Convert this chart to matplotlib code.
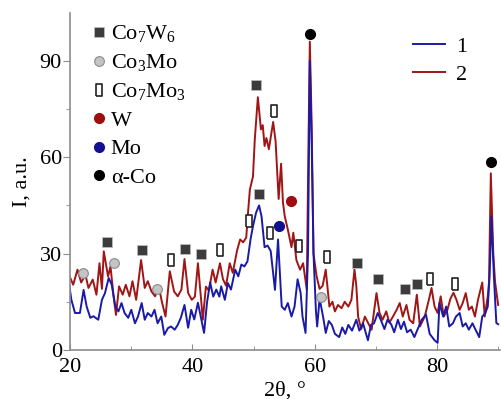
import matplotlib.pyplot as plt
from matplotlib.lines import Line2D

plt.rcParams['font.family'] = 'Liberation Serif'
plt.rcParams['mathtext.fontset'] = 'custom'
plt.rcParams['mathtext.rm'] = 'Liberation Serif'
plt.rcParams['mathtext.it'] = 'Liberation Serif:italic'

# curve 1 (blue)
x1 = [19.8, 20.2, 20.8, 21.6, 22.2, 22.7, 23.3, 23.8, 24.6, 25.2, 25.7, 26.3, 26.8,
      27.4, 27.9, 28.4, 28.9, 29.5, 30.0, 30.6, 31.1, 31.7, 32.2, 32.7, 33.3, 33.8,
      34.3, 34.9, 35.4, 36.0, 36.5, 37.1, 37.6, 38.1, 38.7, 39.3, 39.8, 40.3, 40.9,
      41.4, 41.9, 42.4, 42.9, 43.4, 43.9, 44.4, 44.7, 45.3, 45.8, 46.3, 47.0, 47.5,
      48.0, 48.5, 49.0, 49.5, 49.9, 50.4, 50.9, 51.3, 51.8, 52.3, 52.8, 53.5, 54.0,
      54.3, 54.6, 55.1, 55.6, 56.2, 56.7, 57.2, 57.7, 58.0, 58.5, 58.9, 59.2, 59.5,
      59.8, 60.2, 60.4, 60.8, 61.1, 61.4, 61.8, 62.3, 62.8, 63.3, 64.0, 64.5, 65.0,
      65.5, 66.1, 66.8, 67.3, 67.9, 68.7, 69.2, 69.7, 70.3, 70.8, 71.4, 71.9, 72.5,
      73.0, 73.6, 74.1, 74.6, 75.1, 75.7, 76.3, 76.8, 77.5, 78.2, 78.8, 79.6, 80.1,
      80.4, 81.0, 81.5, 82.0, 82.6, 83.1, 83.7, 84.2, 84.7, 85.2, 85.8, 86.3, 86.9,
      87.4, 87.9, 88.3, 88.6, 88.9, 89.3, 89.7, 90.0]
y1 = [21, 15.6, 11.5, 11.5, 18.7, 13.5, 10, 10.5, 9.4, 15.6, 17.7, 22.4, 20.3,
      13.5, 12, 14.6, 11.5, 10, 12.5, 8.3, 10.4, 14.6, 9.4, 11.5, 10.4, 12.5,
      8.3, 10.4, 4.7, 6.8, 7.3, 6.3, 7.8, 10, 14, 6.9, 12.5, 9.5, 14.7,
      10, 5.3, 15, 21, 16.6, 18.8, 16.6, 19.8, 15.6, 20.8, 18.8, 25, 22.9,
      26.6, 26, 27.6, 34.4, 38.5, 42.7, 45, 41.6, 32, 32.5, 30.8, 18.7, 34.4,
      24, 13.5, 12.5, 14.6, 10.4, 13.5, 22, 17.7, 10.4, 5.3, 30, 90, 65,
      30, 12, 7.3, 16, 13, 10, 5.3, 9, 7.8, 5, 4, 7, 5,
      7.8, 6, 9.4, 6, 8.3, 3, 7.8, 8.3, 11.5, 9.4, 6.5, 9.4, 8,
      5.5, 9.4, 6.5, 8.8, 5.5, 6.3, 4, 6.3, 9.4, 11, 5, 3, 2.2,
      14.6, 10.4, 13.5, 7.3, 8.3, 10.4, 11.5, 7.3, 8.3, 6.3, 8.3, 6.3, 4,
      10.4, 11.5, 13.5, 23, 41.6, 23, 8.4, 8]

# curve 2 (red)
x2 = [19.8, 20.5, 21.2, 21.8, 22.5, 23.0, 23.7, 24.3, 24.8, 25.2, 25.5, 26.2, 26.6,
      27.1, 27.5, 28.0, 28.6, 29.1, 29.7, 30.2, 30.8, 31.6, 32.2, 32.7, 33.3, 33.9,
      34.5, 35.0, 35.6, 36.3, 37.0, 37.6, 38.2, 38.7, 39.3, 39.9, 40.4, 40.9, 41.7,
      42.2, 42.7, 43.3, 43.8, 44.5, 45.0, 45.5, 46.1, 46.6, 47.3, 47.8, 48.3, 48.8,
      49.1, 49.4, 49.9, 50.2, 50.7, 51.2, 51.5, 51.8, 52.1, 52.5, 53.2, 53.6, 54.1,
      54.5, 54.8, 55.1, 55.6, 56.2, 56.5, 57.0, 57.6, 58.1, 58.7, 58.95, 59.2, 59.5,
      59.8, 60.3, 60.8, 61.3, 61.8, 62.4, 62.9, 63.3, 63.8, 64.4, 64.9, 65.5, 66.0,
      66.5, 66.8, 67.1, 67.6, 68.2, 68.7, 69.3, 70.1, 70.6, 71.1, 71.7, 72.2, 72.8,
      73.4, 73.9, 74.4, 75.0, 75.5, 76.1, 76.7, 77.2, 78.0, 78.8, 79.1, 79.6, 80.1,
      80.6, 81.1, 81.7, 82.2, 82.7, 83.2, 83.7, 84.2, 84.7, 85.2, 85.7, 86.2, 86.7,
      87.4, 87.8, 88.3, 88.5, 88.8, 89.2, 89.5, 90.0]
y2 = [23.4, 20.3, 25, 21, 23.4, 19.3, 21.9, 17.2, 27, 19, 30.7, 22.9, 26,
      16.7, 10.9, 19.8, 17.2, 20.3, 16.7, 21.4, 15.6, 28, 19.3, 21.4, 18.2, 16.7,
      19.8, 15, 10.4, 24.5, 18.2, 16.7, 18.8, 28.3, 17.7, 15.6, 16.6, 27, 9.4,
      19.7, 18.5, 25, 21, 27, 22, 20, 27, 24, 31, 34.4, 33.5, 35,
      43, 50, 54, 65.6, 78.7, 68.7, 70, 63.5, 66, 62.5, 71, 65, 47,
      58, 46, 41.6, 37.5, 32, 36.5, 28, 25, 27, 18.8, 60, 96, 70,
      30, 23, 19, 20, 25, 13.5, 15, 12, 14, 13, 15, 13.5, 15.6,
      25, 20, 10.3, 6.5, 10.4, 8.5, 6.3, 17.7, 11.5, 9.4, 12, 8.5, 10.4,
      12.5, 14.6, 10.4, 14, 9.4, 8.3, 17.2, 7.3, 10.4, 16.7, 19.3, 13.5, 11.5,
      16.7, 10.4, 12.5, 16, 17.8, 15.5, 12.5, 14.6, 17.7, 12.5, 13.5, 10.4, 15.6,
      21, 10.4, 16.7, 21, 55, 30, 21, 14]

# phase markers
co7w6_x = [26.0, 31.8, 38.8, 41.4, 50.4, 50.9, 66.9, 70.4, 74.7, 76.8]
co7w6_y = [33.5, 31.2, 31.5, 30.0, 82.5, 48.7, 27.0, 22.0, 19.0, 20.6]
co3mo_x = [22.1, 27.2, 34.2, 61.0]
co3mo_y = [24.0, 27.0, 19.0, 16.5]
co7mo3_x = [36.5, 44.5, 49.2, 52.7, 53.4, 57.4, 62.0, 78.9, 83.0]
co7mo3_y = [28.0, 31.0, 40.0, 36.3, 74.4, 32.5, 29.0, 22.0, 20.6]
w_x = [56.2]
w_y = [46.5]
mo_x = [54.1]
mo_y = [38.7]
aco_x = [59.3, 88.9]
aco_y = [98.4, 58.5]

blue = '#1a1aa6'
red = '#a01515'
rect = [(-0.5, -1), (0.5, -1), (0.5, 1), (-0.5, 1), (-0.5, -1)]

fig = plt.figure(figsize=(5.01, 3.99), dpi=100)
ax = fig.add_axes([0.14, 0.123, 0.858, 0.845])

ax.plot(x2, y2, color=red, lw=1.4)
ax.plot(x1, y1, color=blue, lw=1.4)

m1, = ax.plot(co7w6_x, co7w6_y, 's', color='#3c3c3c', ms=6.5, mec='#bbbbbb', mew=0.6, ls='none')
m2, = ax.plot(co3mo_x, co3mo_y, 'o', color='#c4c4c4', ms=7, mec='#8a8a8a', mew=0.8, ls='none')
m3, = ax.plot(co7mo3_x, co7mo3_y, marker=rect, color='white', ms=8, mec='#222222', mew=1.2, ls='none')
m4, = ax.plot(w_x, w_y, 'o', color='#a00d0d', ms=7, ls='none')
m5, = ax.plot(mo_x, mo_y, 'o', color='#101090', ms=7, ls='none')
m6, = ax.plot(aco_x, aco_y, 'o', color='black', ms=7, ls='none')

leg1 = ax.legend([m1, m2, m3, m4, m5, m6],
                 [r'Co$_7$W$_6$', r'Co$_3$Mo', r'Co$_7$Mo$_3$', 'W', 'Mo', 'α-Co'],
                 loc='upper left', bbox_to_anchor=(0.03, 0.995), frameon=False,
                 fontsize=16, handlelength=0.6, handletextpad=0.25,
                 labelspacing=0.36, borderaxespad=0)
ax.add_artist(leg1)

l1 = Line2D([], [], color=blue, lw=1.4)
l2 = Line2D([], [], color=red, lw=1.4)
ax.legend([l1, l2], ['1', '2'], loc='upper right', bbox_to_anchor=(0.97, 0.99),
          frameon=False, fontsize=16, handlelength=1.45, handletextpad=0.5,
          labelspacing=0.35)

ax.set_xlim(20, 90.3)
ax.set_ylim(0, 105)
ax.set_xticks([20, 40, 60, 80])
ax.set_xticks([30, 50, 70, 90], minor=True)
ax.set_yticks([0, 30, 60, 90])
ax.set_yticks([15, 45, 75], minor=True)

for s in ['top', 'right']:
    ax.spines[s].set_visible(False)
for s in ['left', 'bottom']:
    ax.spines[s].set_color('#8c8c8c')
    ax.spines[s].set_linewidth(1.2)

ax.tick_params(axis='y', which='both', direction='out', color='#8c8c8c', labelsize=16, pad=1)
ax.tick_params(axis='y', which='major', length=5)
ax.tick_params(axis='y', which='minor', length=3)
ax.tick_params(axis='x', which='both', direction='in', color='#8c8c8c', labelsize=16, pad=6)
ax.tick_params(axis='x', which='major', length=4)
ax.tick_params(axis='x', which='minor', length=3)

ax.set_xlabel('2θ, °', fontsize=16, labelpad=3)
ax.set_ylabel('I, a.u.', fontsize=16, labelpad=6)

fig.savefig('out.png', dpi=100)
